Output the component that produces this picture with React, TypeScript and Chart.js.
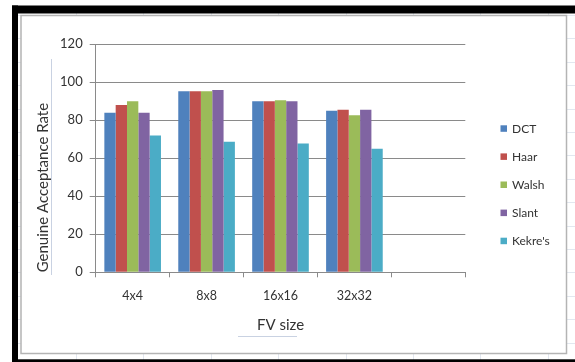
import React, { useEffect, useRef } from 'react';
import { Chart, registerables } from 'chart.js';

Chart.register(...registerables);

const categories = ['4x4', '8x8', '16x16', '32x32', ''];
const seriesNames = ['DCT', 'Haar', 'Walsh', 'Slant', "Kekre's"];
const dctValues = [84, 95.3, 90, 85];
const haarValues = [88, 95.3, 90, 85.5];
const walshValues = [90, 95.3, 90.5, 82.6];
const slantValues = [84, 96, 90, 85.5];
const kekreValues = [72, 68.7, 67.8, 65];
const seriesColors = ['#4F81BD', '#C0504D', '#9BBB59', '#8064A2', '#4BACC6'];
const yMin = 0;
const yMax = 120;
const yStep = 20;
const xTitle = 'FV size';
const yTitle = 'Genuine Acceptance Rate';

const FONT = 'Lato';
const TEXT = '#333333';
const GRID = '#8a8a8a';

const framePlugin = {
  id: 'frame',
  beforeDraw(chart: any) {
    const ctx = chart.ctx;
    const W = chart.width;
    const H = chart.height;
    ctx.save();
    ctx.fillStyle = '#ffffff';
    ctx.fillRect(0, 0, W, H);
    // faint spreadsheet cell lines (inside the black frame only)
    ctx.strokeStyle = '#e2e7ef';
    ctx.lineWidth = 1;
    for (let x = 76; x < W; x += 67.4) {
      ctx.beginPath();
      ctx.moveTo(Math.round(x) + 0.5, 13);
      ctx.lineTo(Math.round(x) + 0.5, H);
      ctx.stroke();
    }
    for (let y = 15; y < H; y += 23.4) {
      ctx.beginPath();
      ctx.moveTo(18, Math.round(y) + 0.5);
      ctx.lineTo(W, Math.round(y) + 0.5);
      ctx.stroke();
    }
    // chart object area
    ctx.fillStyle = '#ffffff';
    ctx.fillRect(21, 15.5, 545.5, 338);
    ctx.strokeStyle = '#b4b4b4';
    ctx.lineWidth = 1.5;
    ctx.strokeRect(21, 15.5, 545.5, 338);
    // black frame
    ctx.fillStyle = '#000000';
    ctx.fillRect(12, 5.5, W - 12, 8);
    ctx.fillRect(12, 5.5, 6, H - 5.5);
    ctx.fillRect(12, 359.3, W - 12, 3);
    // selection-like faint lines near titles
    ctx.strokeStyle = '#c9d2e2';
    ctx.lineWidth = 1;
    ctx.beginPath();
    ctx.moveTo(51.5, 59);
    ctx.lineTo(51.5, 275);
    ctx.stroke();
    ctx.beginPath();
    ctx.moveTo(238, 336.5);
    ctx.lineTo(297, 336.5);
    ctx.stroke();
    ctx.restore();
  },
  afterDraw(chart: any) {
    const ctx = chart.ctx;
    ctx.save();
    ctx.font = `12px ${FONT}`;
    ctx.textBaseline = 'middle';
    ctx.textAlign = 'left';
    chart.data.datasets.forEach((ds: any, i: number) => {
      const cy = 128.3 + 28.1 * i;
      ctx.fillStyle = ds.backgroundColor;
      ctx.fillRect(500.5, cy - 3, 6.5, 6.5);
      ctx.fillStyle = TEXT;
      ctx.fillText(ds.label, 512, cy + 0.5);
    });
    ctx.restore();
  },
};

export default function App() {
  const ref = useRef<HTMLCanvasElement | null>(null);
  useEffect(() => {
    if (!ref.current) return;
    const values = [dctValues, haarValues, walshValues, slantValues, kekreValues];
    const chart = new Chart(ref.current, {
      type: 'bar',
      data: {
        labels: categories,
        datasets: seriesNames.map((name, i) => ({
          label: name,
          data: values[i],
          backgroundColor: seriesColors[i],
          borderWidth: 0,
          categoryPercentage: 0.766,
          barPercentage: 1.0,
        })),
      },
      options: {
        animation: false,
        responsive: false,
        devicePixelRatio: 1,
        layout: { padding: { left: 28, top: 44.3, right: 109.7, bottom: 27.6 } },
        plugins: {
          legend: { display: false },
          tooltip: { enabled: false },
        },
        scales: {
          x: {
            type: 'category',
            offset: true,
            grid: {
              offset: true,
              drawOnChartArea: false,
              drawTicks: true,
              tickLength: 5,
              color: GRID,
            },
            border: { display: true, color: GRID, width: 1 },
            ticks: {
              color: TEXT,
              font: { family: FONT, size: 12.5 },
              padding: 11.2,
              maxRotation: 0,
              autoSkip: false,
            },
            title: {
              display: true,
              text: xTitle,
              color: TEXT,
              font: { family: FONT, size: 15 },
              padding: { top: 0, bottom: 0 },
            },
            afterFit: (scale: any) => {
              scale.height = 62.1;
            },
          },
          y: {
            min: yMin,
            max: yMax,
            ticks: {
              stepSize: yStep,
              color: TEXT,
              font: { family: FONT, size: 13 },
              padding: 7,
            },
            grid: {
              color: GRID,
              tickLength: 6,
              drawTicks: true,
            },
            border: { display: true, color: GRID, width: 1 },
            title: {
              display: true,
              text: yTitle,
              align: 'start',
              color: TEXT,
              font: { family: FONT, size: 15 },
              padding: { top: 5.7, bottom: 0 },
            },
            afterFit: (scale: any) => {
              scale.width = 67.7;
            },
          },
        },
      },
      plugins: [framePlugin],
    });
    return () => chart.destroy();
  }, []);
  return (
    <div style={{ position: 'absolute', left: 0, top: 0, width: 575, height: 362 }}>
      <canvas ref={ref} width={575} height={362} style={{ display: 'block' }} />
    </div>
  );
}
